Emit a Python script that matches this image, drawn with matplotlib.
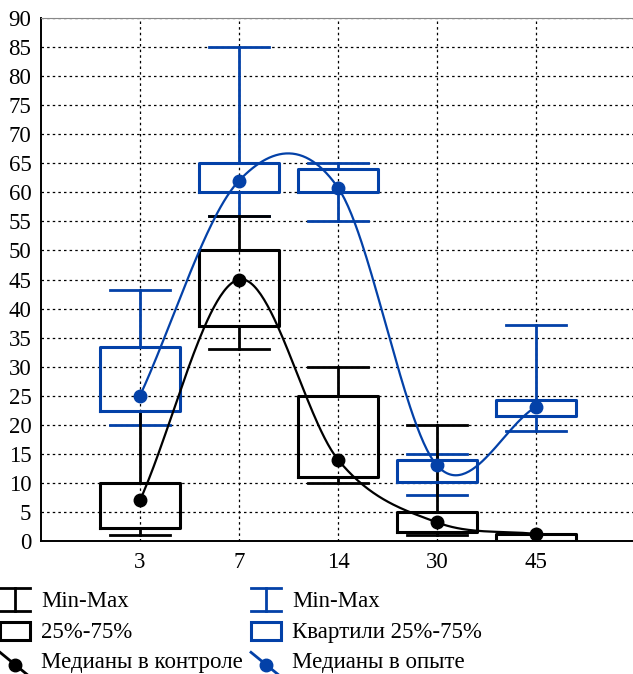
import numpy as np
import matplotlib
matplotlib.use("Agg")
import matplotlib.pyplot as plt
from matplotlib.lines import Line2D
from matplotlib.patches import Rectangle
from matplotlib.legend_handler import HandlerBase

plt.rcParams['font.family'] = ['Liberation Serif', 'DejaVu Serif']

# данные
days = ['3', '7', '14', '30', '45']
ctrl_min = [1, 33, 10, 1, 0]
ctrl_q1 = [2.3, 37, 11, 1.5, 0]
ctrl_med = [7, 45, 14, 3.2, 1.2]
ctrl_q3 = [10, 50, 25, 5, 1.2]
ctrl_max = [22.3, 56, 30, 20, 1.2]

exp_min = [20, 56, 55, 8, 19]
exp_q1 = [22.3, 60, 60, 10.1, 21.5]
exp_med = [25, 62, 60.8, 13, 23.1]
exp_q3 = [33.3, 65, 64, 14, 24.3]
exp_max = [43.2, 85, 65, 15, 37.2]

black = 'black'
blue = '#0341a8'


def stats(lo, q1, med, q3, hi):
    return [dict(whislo=a, q1=b, med=c, q3=d, whishi=e, fliers=[])
            for a, b, c, d, e in zip(lo, q1, med, q3, hi)]


def catmull_rom(x, y, n=60):
    # кубическая эрмитова кривая через точки (касательные по соседям)
    x = np.asarray(x, float); y = np.asarray(y, float)
    m = np.gradient(y, x)
    xs, ys = [], []
    for i in range(len(x) - 1):
        h = x[i + 1] - x[i]
        t = np.linspace(0, 1, n)
        h00 = 2 * t**3 - 3 * t**2 + 1
        h10 = t**3 - 2 * t**2 + t
        h01 = -2 * t**3 + 3 * t**2
        h11 = t**3 - t**2
        xs.append(x[i] + t * h)
        ys.append(h00 * y[i] + h10 * h * m[i] + h01 * y[i + 1] + h11 * h * m[i + 1])
    return np.concatenate(xs), np.concatenate(ys)


fig = plt.figure(figsize=(6.33, 6.74), dpi=100)
ax = fig.add_axes([41 / 633, 1 - 541 / 674, 594 / 633, 523 / 674])

pos = np.arange(1, len(days) + 1)

ax.bxp(stats(exp_min, exp_q1, exp_med, exp_q3, exp_max), positions=pos,
       widths=0.8, capwidths=0.6, showfliers=False,
       boxprops=dict(color=blue, linewidth=2.2, zorder=4),
       whiskerprops=dict(color=blue, linewidth=2, zorder=3),
       capprops=dict(color=blue, linewidth=2, zorder=3),
       medianprops=dict(linewidth=0))
ax.bxp(stats(ctrl_min, ctrl_q1, ctrl_med, ctrl_q3, ctrl_max), positions=pos,
       widths=0.8, capwidths=0.6, showfliers=False,
       boxprops=dict(color=black, linewidth=2.2, zorder=3.6),
       whiskerprops=dict(color=black, linewidth=2, zorder=3.5),
       capprops=dict(color=black, linewidth=2, zorder=3.5),
       medianprops=dict(linewidth=0))

cx, cy = catmull_rom(pos, ctrl_med)
bx, by = catmull_rom(pos, exp_med)
ax.plot(cx, cy, color=black, lw=1.6, zorder=5)
ax.plot(bx, by, color=blue, lw=1.6, zorder=5)
ax.plot(pos, ctrl_med, 'o', color=black, ms=9, zorder=6)
ax.plot(pos, exp_med, 'o', color=blue, ms=9, zorder=6)

ax.set_xlim(0, 6)
ax.set_ylim(0, 90)
ax.set_yticks(np.arange(0, 91, 5))
ax.set_xticks(pos)
ax.set_xticklabels(days)
ax.tick_params(length=0, labelsize=16.5, pad=7)
ax.tick_params(axis='x', pad=8)
ax.grid(True, color='black', linestyle=(0, (2, 2.5)), linewidth=0.9)
ax.set_axisbelow(True)
for s in ['left', 'bottom']:
    ax.spines[s].set_linewidth(1.4)
ax.spines['top'].set_color('#888888')
ax.spines['right'].set_visible(False)


class HandlerMinMax(HandlerBase):
    def create_artists(self, legend, orig, xd, yd, w, h, fs, trans):
        c = orig.get_color()
        top = h + 2; bot = -3; mid = w / 2
        return [Line2D([0, w], [top, top], color=c, lw=2, transform=trans),
                Line2D([0, w], [bot, bot], color=c, lw=2, transform=trans),
                Line2D([mid, mid], [bot, top], color=c, lw=2, transform=trans)]


class HandlerBox(HandlerBase):
    def create_artists(self, legend, orig, xd, yd, w, h, fs, trans):
        c = orig.get_edgecolor()
        return [Rectangle((0, -2), w, h + 2, fill=False, edgecolor=c, lw=2.2, transform=trans)]


class HandlerMed(HandlerBase):
    def create_artists(self, legend, orig, xd, yd, w, h, fs, trans):
        c = orig.get_color()
        return [Line2D([0, w], [h, -6], color=c, lw=2, transform=trans),
                Line2D([w / 2], [(h - 6) / 2], marker='o', ms=9, color=c, transform=trans)]


h_mm_k = Line2D([], [], color=black)
h_box_k = Rectangle((0, 0), 1, 1, edgecolor=black)
h_med_k = Line2D([], [], color=black, marker='o')
h_mm_b = Line2D([], [], color=blue)
h_box_b = Rectangle((0, 0), 1, 1, edgecolor=blue)
h_med_b = Line2D([], [], color=blue, marker='o')

fig.legend([h_mm_k, h_box_k, h_med_k, h_mm_b, h_box_b, h_med_b],
           ['Min-Max', '25%-75%', 'Медианы в контроле',
            'Min-Max', 'Квартили 25%-75%', 'Медианы в опыте'],
           handler_map={h_mm_k: HandlerMinMax(), h_mm_b: HandlerMinMax(),
                        h_box_k: HandlerBox(), h_box_b: HandlerBox(),
                        h_med_k: HandlerMed(), h_med_b: HandlerMed()},
           ncol=2, loc='upper left', bbox_to_anchor=(0.0, 1 - 591 / 674),
           frameon=False, fontsize=16.5, handlelength=1.3, handletextpad=0.5,
           columnspacing=0.35, labelspacing=0.42, borderaxespad=0, borderpad=0)

fig.savefig('out.png', dpi=100)
